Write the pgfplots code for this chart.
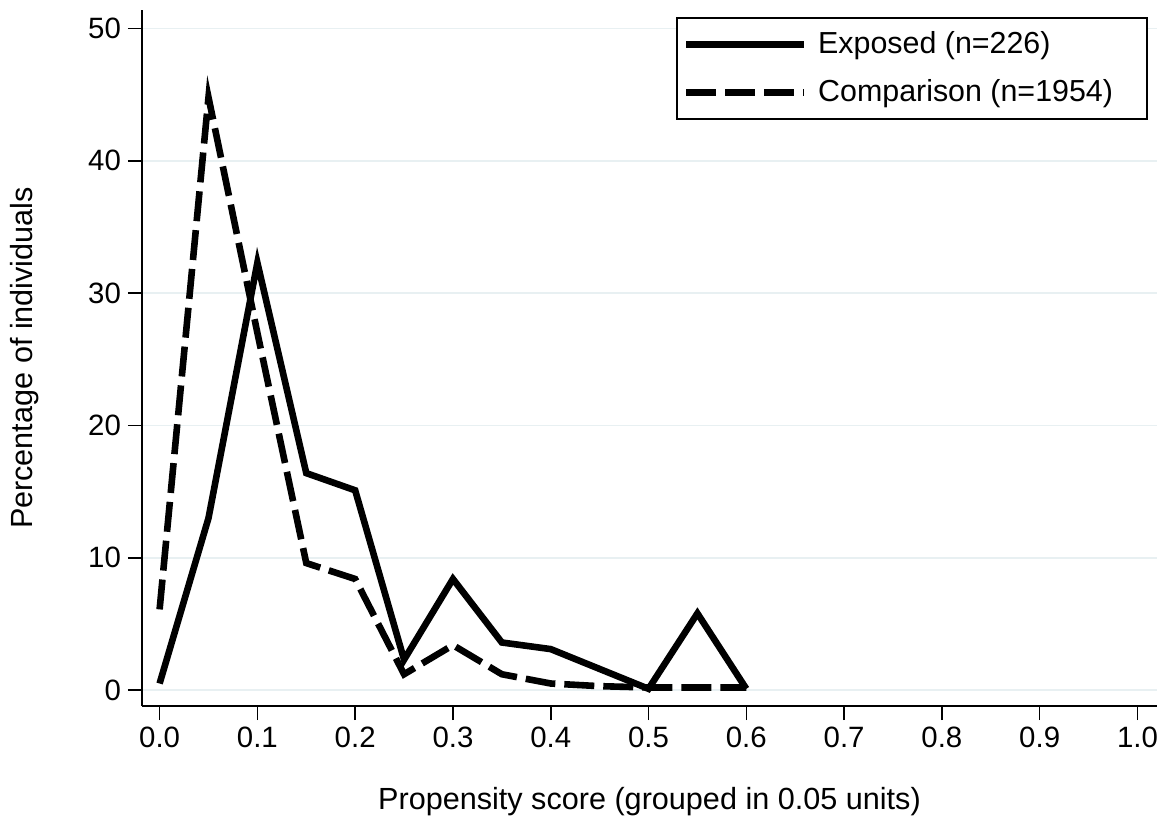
\documentclass[border=0pt]{standalone}
\usepackage{pgfplots}
\pgfplotsset{compat=1.18}
\usepackage{fontspec}
\setmainfont{Liberation Sans}
\definecolor{gridc}{RGB}{232,240,242}
\begin{document}
\begin{tikzpicture}
\begin{axis}[
  scale only axis,
  width=507.5pt, height=348pt,
  xmin=-0.018, xmax=1.02,
  ymin=-1.2, ymax=51.4,
  axis x line*=bottom, axis y line*=left,
  axis line style={line width=0.8pt, -},
  xtick={0,0.1,...,1.0},
  ytick={0,10,20,30,40,50},
  tick align=outside,
  major tick length=7pt,
  tick style={line width=0.8pt, black},
  xticklabel style={/pgf/number format/.cd, fixed, fixed zerofill, precision=1},
  /pgf/number format/assume math mode=true,
  tick label style={font=\fontsize{14.7}{17}\selectfont},
  ymajorgrids,
  grid style={gridc, line width=0.8pt},
  xlabel={Propensity score (grouped in 0.05 units)},
  ylabel={Percentage of individuals},
  label style={font=\fontsize{15.3}{18}\selectfont},
  xlabel style={yshift=-13pt},
  ylabel style={yshift=18pt},
  legend style={at={(0.991,0.99)}, anchor=north east, draw=black, line width=0.8pt,
    font=\fontsize{15.2}{18}\selectfont, row sep=7.5pt, inner xsep=3pt, inner ysep=5pt, cells={anchor=west}},
  legend image code/.code={\draw[#1] (0pt,0pt) -- (59pt,0pt); \path[draw=none,fill=none] (0pt,0pt) -- (64pt,0pt);},
]
\addplot[black, line width=3.3pt] coordinates {
(0,0.5) (0.05,13) (0.1,32.3) (0.15,16.4) (0.2,15.1) (0.25,2.3) (0.3,8.4) (0.35,3.6) (0.4,3.1) (0.45,1.6) (0.5,0.1) (0.55,5.8) (0.6,0.1)};
\addlegendentry{Exposed (n=226)}
\addplot[black, line width=3.3pt, dash pattern=on 15pt off 4.5pt] coordinates {
(0,6.1) (0.05,44.8) (0.1,27) (0.15,9.6) (0.2,8.4) (0.25,1.2) (0.3,3.4) (0.35,1.2) (0.4,0.5) (0.45,0.3) (0.5,0.2) (0.55,0.2) (0.6,0.2)};
\addlegendentry{Comparison (n=1954)\hspace*{12pt}}
\end{axis}
\path (current axis.south west) ++(-71pt,-60pt) rectangle ++(583.5pt,413pt);
\end{tikzpicture}
\end{document}
